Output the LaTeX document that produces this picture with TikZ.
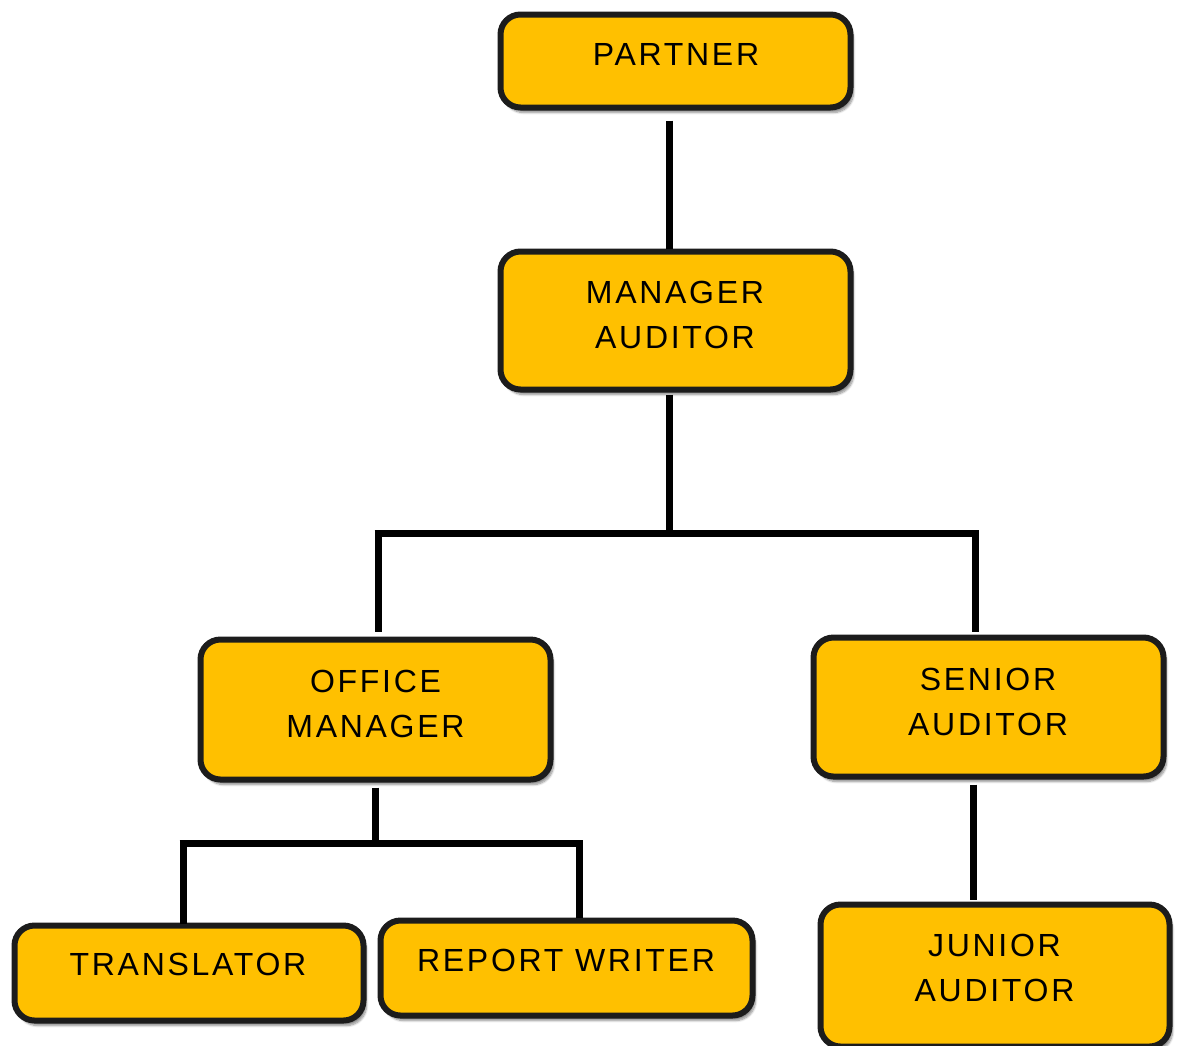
\documentclass[tikz,border=0pt]{standalone}
\usepackage{fontspec}
\setmainfont[LetterSpace=8.5]{Liberation Sans}
\usetikzlibrary{shadows.blur}
\definecolor{gold}{HTML}{FFC000}
\definecolor{edge}{HTML}{1C1C1C}
\tikzset{
  box/.style={draw=edge, line width=6pt, fill=gold, rounded corners=20pt,
    blur shadow={shadow xshift=3pt, shadow yshift=-5pt, shadow blur steps=8, shadow opacity=45},
    inner sep=0pt},
  lbl/.style={inner sep=0pt, align=center, font=\fontsize{32}{45}\selectfont, text=black},
  conn/.style={line width=7pt, draw=black}
}
\begin{document}
\begin{tikzpicture}[x=1pt, y=-1pt]
\useasboundingbox (0,0) rectangle (1182,1045);
\clip (0,0) rectangle (1182,1045);
% boxes
\node[box, minimum width=350pt, minimum height=93pt]  (p) at (675.5,61) {};
\node[box, minimum width=350pt, minimum height=138pt] (m) at (675.5,320.5) {};
\node[box, minimum width=350pt, minimum height=140pt] (o) at (375.5,709.5) {};
\node[box, minimum width=350pt, minimum height=139pt] (s) at (988.5,707) {};
\node[box, minimum width=349pt, minimum height=95pt]  (t) at (189,973) {};
\node[box, minimum width=372pt, minimum height=95pt]  (r) at (566.5,968) {};
\node[box, minimum width=349pt, minimum height=142pt] (j) at (995,975.5) {};
% labels
\node[lbl] (pl) at (676,54) {PARTNER};
\node[lbl] (ml) at (675,315) {MANAGER\\AUDITOR};
\node[lbl] (ol) at (375.5,703.5) {OFFICE\\MANAGER};
\node[lbl] (sl) at (988,701.5) {SENIOR\\AUDITOR};
\node[lbl] (tl) at (188,964.5) {TRANSLATOR};
\node[lbl] (rl) at (566,960.5) {REPORT WRITER};
\node[lbl] (jl) at (994.5,968) {JUNIOR\\AUDITOR};
% junction coordinates
\coordinate (j1) at (669,533);
\coordinate (jL) at (378,533);
\coordinate (jR) at (975,533);
\coordinate (k1) at (375,843);
\coordinate (kL) at (183,843);
\coordinate (kR) at (579,843);
\coordinate (sx) at (973,0);
% connectors
\draw[conn] ([yshift=-10pt]p.south -| j1) -- (m.north -| j1);
\draw[conn] ([yshift=-2pt]m.south -| j1) -- ([yshift=3pt]j1);
\draw[conn] ([xshift=-3.5pt]jL) -- ([xshift=3.5pt]jR);
\draw[conn] ([yshift=3pt]jL) -- ([yshift=5pt]o.north -| jL);
\draw[conn] ([yshift=3pt]jR) -- ([yshift=3pt]s.north -| jR);
\draw[conn] ([yshift=-5pt]o.south -| k1) -- ([yshift=3pt]k1);
\draw[conn] ([xshift=-3.5pt]kL) -- ([xshift=3.5pt]kR);
\draw[conn] ([yshift=3pt]kL) -- ([yshift=-1pt]t.north -| kL);
\draw[conn] ([yshift=3pt]kR) -- (r.north -| kR);
\draw[conn] ([yshift=-5pt]s.south -| sx) -- ([yshift=2pt]j.north -| sx);
\end{tikzpicture}
\end{document}
